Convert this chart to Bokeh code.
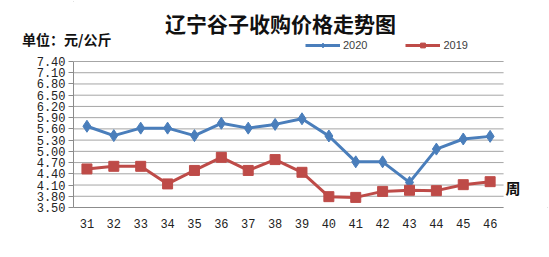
from bokeh.plotting import figure
from bokeh.models import (FixedTicker, Label, Legend, LegendItem, LinearAxis,
                          CustomJSTickFormatter, Range1d)
from bokeh.embed import file_html
from bokeh.resources import INLINE

weeks = [31, 32, 33, 34, 35, 36, 37, 38, 39, 40, 41, 42, 43, 44, 45, 46]
price_2020 = [5.67, 5.42, 5.62, 5.62, 5.42, 5.75, 5.62, 5.72, 5.87, 5.41, 4.72, 4.72, 4.17, 5.06, 5.33, 5.40]
price_2019 = [4.53, 4.60, 4.60, 4.13, 4.49, 4.84, 4.49, 4.78, 4.44, 3.79, 3.77, 3.93, 3.96, 3.95, 4.11, 4.19]
y_ticks = [3.50, 3.80, 4.10, 4.40, 4.70, 5.00, 5.30, 5.60, 5.90, 6.20, 6.50, 6.80, 7.10, 7.40]
title_text = "辽宁谷子收购价格走势图"
unit_text = "单位：元/公斤"
week_text = "周"

BLUE = "#4a7ebb"
RED = "#be4b48"
CJK = "Noto Sans CJK SC"

# frame: left edge at canvas x=73, bottom at canvas y=207, spans to top/right of canvas
FL, FB = 73, 207
Y0, Y1 = 3.5, 7.4
PX_PER_Y = 146.0 / (Y1 - Y0)        # 3.50 -> y=207, 7.40 -> y=61
PX_PER_X = 26.88
X0 = weeks[0] - 0.5


def fx(x):
    return x - FL


def fy(y):
    return FB - y


p = figure(width=549, height=257, output_backend="svg", toolbar_location=None,
           x_range=Range1d(X0, X0 + (549 - FL) / PX_PER_X),
           y_range=Range1d(Y0, Y0 + FB / PX_PER_Y),
           min_border_left=FL, min_border_right=0, min_border_top=0, min_border_bottom=257 - FB)
p.extra_y_ranges = {"unit": Range1d(0, FB)}
p.outline_line_color = None
p.background_fill_color = "white"
p.border_fill_color = "white"
p.styles = {"outline": "1px solid #8c8c8c", "outline-offset": "-2px"}

# axes
p.yaxis.ticker = FixedTicker(ticks=y_ticks)
p.yaxis.bounds = (Y0, Y1)
p.yaxis.formatter = CustomJSTickFormatter(code="return tick.toFixed(2);")
p.yaxis.major_label_text_font = "Liberation Mono"
p.yaxis.major_label_text_font_size = "12px"
p.yaxis.major_label_text_color = "#222222"
p.yaxis.axis_line_color = "#8c8c8c"
p.yaxis.major_tick_line_color = "#8c8c8c"
p.yaxis.major_tick_out = 5
p.yaxis.major_tick_in = 0
p.yaxis.minor_tick_line_color = None
p.yaxis.major_label_standoff = 3

unit_axis = LinearAxis(y_range_name="unit", ticker=FixedTicker(ticks=[fy(38)]),
                       formatter=CustomJSTickFormatter(args=dict(t=unit_text), code="return t;"),
                       axis_line_color=None, major_tick_line_color=None, minor_tick_line_color=None,
                       major_tick_out=0, major_tick_in=0, major_label_standoff=-78,
                       major_label_text_font=CJK, major_label_text_font_size="14px",
                       major_label_text_font_style="bold", major_label_text_color="#111111")
p.add_layout(unit_axis, "left")

p.xaxis.ticker = FixedTicker(ticks=weeks)
p.xaxis.bounds = (X0, weeks[-1] + 0.5)
p.xaxis.major_label_text_font = "Liberation Mono"
p.xaxis.major_label_text_font_size = "12px"
p.xaxis.major_label_text_color = "#222222"
p.xaxis.axis_line_color = "#8c8c8c"
p.xaxis.major_tick_line_color = None
p.xaxis.minor_tick_line_color = None
p.xaxis.major_label_standoff = 5

p.ygrid.grid_line_color = None
p.xgrid.grid_line_color = None
p.segment(x0=X0, x1=weeks[-1] + 0.5, y0=y_ticks, y1=y_ticks, line_color="#a6a6a6", line_width=1)

l1 = p.line(weeks, price_2020, line_color=BLUE, line_width=3)
m1 = p.scatter(weeks, price_2020, marker="diamond", size=12, fill_color=BLUE, line_color=BLUE)
l2 = p.line(weeks, price_2019, line_color=RED, line_width=3)
m2 = p.scatter(weeks, price_2019, marker="square", size=10, fill_color=RED, line_color=RED)

legend = Legend(items=[LegendItem(label="2020", renderers=[l1, m1]),
                       LegendItem(label="2019", renderers=[l2, m2])],
                orientation="horizontal", location=(fx(305), fy(51)),
                border_line_color=None, background_fill_alpha=0,
                label_text_font="Liberation Sans", label_text_font_size="11px",
                label_text_color="#404040", glyph_width=35, glyph_height=12,
                spacing=38, padding=0, margin=0, label_standoff=3)
p.add_layout(legend)

p.add_layout(Label(x=fx(280), y=fy(22), x_units="screen", y_units="screen", text=title_text,
                   text_font=CJK, text_font_size="21px", text_font_style="bold",
                   text_align="center", text_baseline="middle", text_color="#111111"))
p.add_layout(Label(x=fx(505), y=fy(187), x_units="screen", y_units="screen", text=week_text,
                   text_font=CJK, text_font_size="15px", text_font_style="bold",
                   text_align="left", text_baseline="middle", text_color="#111111"))

open("out.html", "w").write(file_html(p, INLINE))
